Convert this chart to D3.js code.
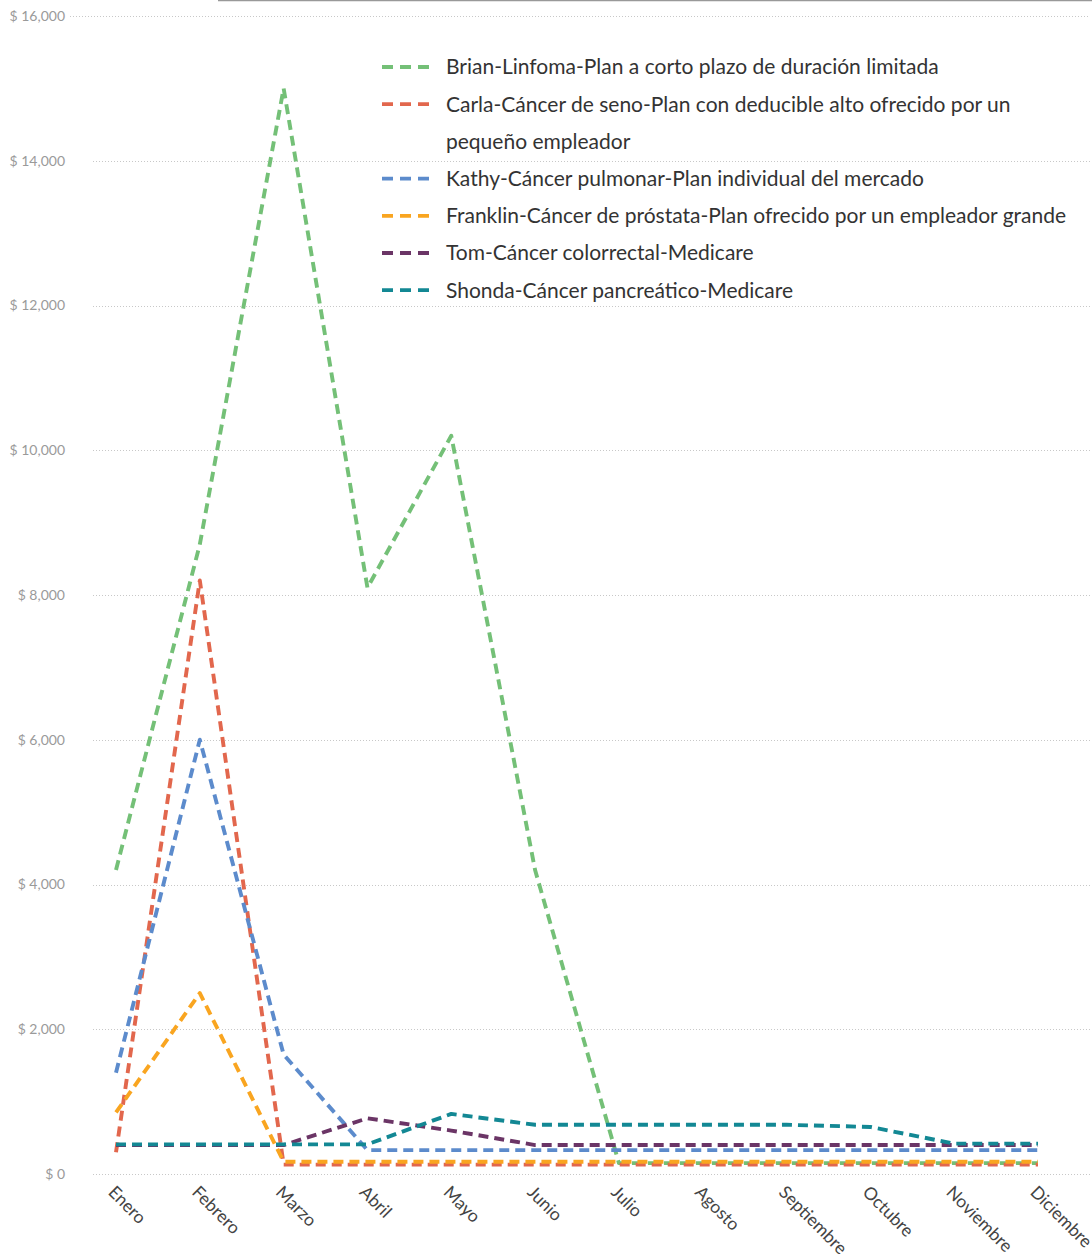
<!DOCTYPE html>
<html><head><meta charset="utf-8">
<script src="https://cdn.jsdelivr.net/npm/d3@7"></script>
<style>body{margin:0;background:#fff}svg{display:block}</style>
</head><body><svg id="c" width="1092" height="1257"></svg>
<script>
const months = ["Enero","Febrero","Marzo","Abril","Mayo","Junio","Julio","Agosto","Septiembre","Octubre","Noviembre","Diciembre"];
const seriesNames = [
  "Brian-Linfoma-Plan a corto plazo de duración limitada",
  "Carla-Cáncer de seno-Plan con deducible alto ofrecido por un pequeño empleador",
  "Kathy-Cáncer pulmonar-Plan individual del mercado",
  "Franklin-Cáncer de próstata-Plan ofrecido por un empleador grande",
  "Tom-Cáncer colorrectal-Medicare",
  "Shonda-Cáncer pancreático-Medicare"
];
const legendLines = [
  ["Brian-Linfoma-Plan a corto plazo de duración limitada"],
  ["Carla-Cáncer de seno-Plan con deducible alto ofrecido por un","pequeño empleador"],
  ["Kathy-Cáncer pulmonar-Plan individual del mercado"],
  ["Franklin-Cáncer de próstata-Plan ofrecido por un empleador grande"],
  ["Tom-Cáncer colorrectal-Medicare"],
  ["Shonda-Cáncer pancreático-Medicare"]
];
const brian    = [4200, 8700, 15000, 8100, 10200, 4200, 150, 150, 150, 150, 150, 150];
const carla    = [300, 8200, 130, 130, 130, 130, 130, 130, 130, 130, 130, 130];
const kathy    = [1400, 6000, 1650, 330, 330, 330, 330, 330, 330, 330, 330, 330];
const franklin = [850, 2500, 170, 170, 170, 170, 170, 170, 170, 170, 170, 170];
const tom      = [400, 400, 400, 770, 600, 400, 400, 400, 400, 400, 400, 400];
const shonda   = [410, 410, 410, 410, 830, 680, 680, 680, 680, 650, 420, 420];
const colors = ["#74c077","#e2674d","#5c8bcc","#f9a520","#6b3566","#138894"];
const yTicks = [0,2000,4000,6000,8000,10000,12000,14000,16000];

const allSeries = [brian, carla, kathy, franklin, tom, shonda];
const svg = d3.select("#c");
const x = d3.scalePoint().domain(months).range([116,1038]);
const y = d3.scaleLinear().domain([0,16000]).range([1174,16]);

// top rule
svg.append("line").attr("x1",218).attr("x2",1092).attr("y1",0.5).attr("y2",0.5)
  .attr("stroke","#999").attr("stroke-width",1.5);

// gridlines
const g = svg.append("g");
g.selectAll("line.grid").data(yTicks).join("line")
  .attr("x1", d => d===16000 ? 70 : 93).attr("x2",1090)
  .attr("y1", d => Math.round(y(d))+0.5).attr("y2", d => Math.round(y(d))+0.5)
  .attr("stroke","#c8c8c8").attr("stroke-dasharray","1,2");

// y axis labels
const yAxis = d3.axisLeft(y).tickValues(yTicks).tickSize(0).tickPadding(0)
  .tickFormat(d => "$ " + d3.format(",")(d));
const ya = svg.append("g").attr("transform","translate(65,0)").call(yAxis);
ya.select(".domain").remove();
ya.selectAll("text").attr("fill","#9a9a9a").style("font-family","Lato, 'Open Sans', sans-serif").style("font-size","14px");

// x axis labels
const xAxis = d3.axisBottom(x).tickSize(0).tickPadding(0);
const xa = svg.append("g").attr("transform","translate(0,1189)").call(xAxis);
xa.select(".domain").remove();
xa.selectAll("text")
  .attr("text-anchor","start").attr("dy","0.35em").attr("y",0).attr("x",0)
  .attr("transform","translate(-5,0) rotate(45)")
  .attr("fill","#444").style("font-family","Lato, 'Open Sans', sans-serif").style("font-size","17.5px");

// lines
const line = d3.line().x((d,i) => x(months[i])).y(d => y(d));
const order = [0,1,3,2,4,5];
order.forEach(k => {
  svg.append("path").datum(allSeries[k]).attr("d", line)
    .attr("fill","none").attr("stroke", colors[k]).attr("stroke-width",3.9)
    .attr("stroke-dasharray","10,6").attr("stroke-linejoin","round");
});

// legend
const lg = svg.append("g").style("font-family","Lato, 'Open Sans', sans-serif").style("font-size","21px");
let row = 0;
legendLines.forEach((lines,i) => {
  const yy = 67 + row*37.2;
  lg.append("line").attr("x1",382).attr("x2",431).attr("y1",yy).attr("y2",yy)
    .attr("stroke",colors[i]).attr("stroke-width",3.8).attr("stroke-dasharray","11,7");
  lines.forEach((t,j) => {
    lg.append("text").attr("x",446).attr("y",67 + (row+j)*37.2).attr("dy","0.35em")
      .attr("fill","#333").text(t);
  });
  row += lines.length;
});
</script></body></html>
